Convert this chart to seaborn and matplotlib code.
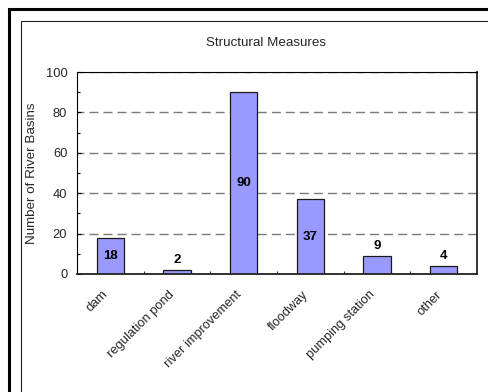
import matplotlib
matplotlib.use("Agg")
import matplotlib.pyplot as plt
import matplotlib.patches as mpatches
import matplotlib.transforms as mtransforms
from matplotlib.ticker import MultipleLocator, FixedLocator, NullFormatter
import seaborn as sns
import pandas as pd

# Counts of river basins per structural measure
categories = ["dam", "regulation pond", "river improvement", "floodway",
              "pumping station", "other"]
counts = [18, 2, 90, 37, 9, 4]
y_ticks = [0, 20, 40, 60, 80, 100]
title = "Structural Measures"
y_title = "Number of River Basins"

sns.set_theme(style="white")
plt.rcParams["font.family"] = ["Liberation Sans", "DejaVu Sans"]

df = pd.DataFrame({"measure": categories, "count": counts})

W, H = 489, 392
fig = plt.figure(figsize=(W / 100, H / 100), dpi=100)
fig.patch.set_facecolor("white")

# double frame around the chart area
outer = mpatches.Rectangle((9 / W, -0.2), 1.2, 1.2 - 9 / H + 0.0,
                           transform=fig.transFigure, fill=False,
                           edgecolor="black", linewidth=2.2)
inner = mpatches.Rectangle((21.5 / W, -0.2), 1.2, 1.2 - 20.5 / H,
                           transform=fig.transFigure, fill=False,
                           edgecolor="#222222", linewidth=0.8)
fig.patches.extend([outer, inner])

ax = fig.add_axes([77 / W, 1 - 274 / H, 400 / W, 202 / H])
sns.barplot(data=df, x="measure", y="count", color="#9999FF", saturation=1,
            width=0.41, edgecolor="#1a1a1a", linewidth=0.9, ax=ax, zorder=3)

ax.set_xlim(-0.5, len(categories) - 0.5)
ax.set_ylim(y_ticks[0], y_ticks[-1])
ax.set_yticks(y_ticks)
ax.yaxis.set_minor_locator(MultipleLocator(10))
ax.set_xlabel("")
ax.set_ylabel("")

# dashed horizontal gridlines behind the bars
ax.set_axisbelow(True)
ax.yaxis.grid(True, which="major", color="#7a7a7a", linewidth=1.0,
              linestyle=(1.5, (6.5, 3.6)))
ax.xaxis.grid(False)

ax.tick_params(axis="y", which="major", direction="in", length=3, width=0.8,
               color="black", labelsize=9.3, pad=7, left=True)
ax.tick_params(axis="y", which="minor", direction="in", length=2.2, width=0.8,
               color="black", left=True)

# category separators on the x axis, labels centred under bars
ax.xaxis.set_minor_locator(FixedLocator([i + 0.5 for i in range(len(categories) - 1)]))
ax.xaxis.set_minor_formatter(NullFormatter())
ax.tick_params(axis="x", which="minor", direction="in", length=2.5, width=0.8,
               color="#333333", bottom=True)
ax.tick_params(axis="x", which="major", length=0, labelsize=9.3, pad=13.5)
shift = mtransforms.ScaledTranslation(-4 / 100, 0, fig.dpi_scale_trans)
for lbl in ax.get_xticklabels():
    lbl.set_rotation(45)
    lbl.set_ha("right")
    lbl.set_va("center")
    lbl.set_rotation_mode("anchor")
    lbl.set_transform(lbl.get_transform() + shift)

for side in ["left", "top"]:
    ax.spines[side].set_color("black")
    ax.spines[side].set_linewidth(0.8)
for side in ["right", "bottom"]:
    ax.spines[side].set_color("#222222")
    ax.spines[side].set_linewidth(1.3)
for s in ax.spines.values():
    s.set_zorder(4)

# value labels: inside the bar when it is tall enough, otherwise above it
for patch, v in zip(ax.patches, counts):
    cx = patch.get_x() + patch.get_width() / 2
    if v >= 15:
        ax.text(cx, v / 2, str(v), ha="center", va="center",
                fontsize=9.5, fontweight="bold", color="black", zorder=5)
    else:
        ax.annotate(str(v), (cx, v), xytext=(0, 3), textcoords="offset points",
                    ha="center", va="bottom", fontsize=9.5,
                    fontweight="bold", color="black", zorder=5)

fig.text(266 / W, 1 - 43 / H, title, ha="center", va="center", fontsize=9.6)
fig.text(32 / W, 1 - 173 / H, y_title, ha="center", va="center",
         rotation=90, fontsize=9.6)

fig.savefig("out.png", dpi=100)
